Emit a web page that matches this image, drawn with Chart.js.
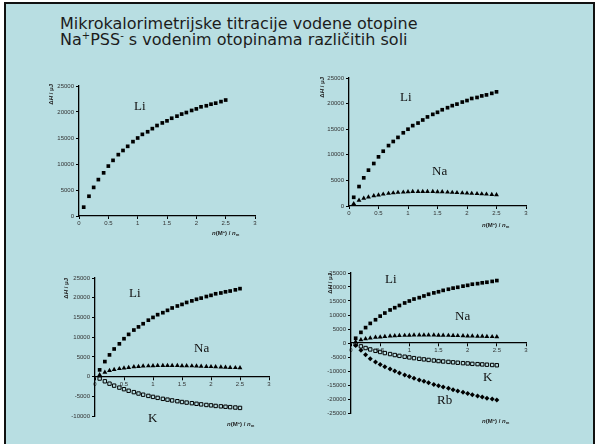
<!DOCTYPE html>
<html>
<head>
<meta charset="utf-8">
<script src="https://cdn.jsdelivr.net/npm/chart.js@4.4.1/dist/chart.umd.min.js"></script>
<style>
  body { margin: 0; width: 595px; height: 444px; background: #fff; overflow: hidden; position: relative; }
  #slide { position: absolute; left: 4px; top: 2px; width: 587px; height: 470px; background: #b8dee2; border: 2px solid #111; }
  #title { position: absolute; left: 60px; top: 16px; font: 16px/16px "DejaVu Sans", sans-serif; color: #1c1c1c; white-space: nowrap; }
  #title sup { font-size: 10px; vertical-align: 6px; line-height: 0; }
  canvas { position: absolute; }
  .lbl { position: absolute; font: 13px/13px "Liberation Serif", serif; color: #111; }
  .ytl { position: absolute; font: bold 6px/7px "Liberation Sans", Arial, sans-serif; color: #222;
         writing-mode: vertical-rl; transform: rotate(180deg); white-space: nowrap; }
  .xtl { position: absolute; font: bold 6px/7px "Liberation Sans", Arial, sans-serif; color: #222; white-space: nowrap; }
  .xtl sub { font-size: 4px; vertical-align: -1px; }
  .xtl sup { font-size: 4px; vertical-align: 2px; }
</style>
</head>
<body>
<div id="slide"></div>
<div id="title">Mikrokalorimetrijske titracije vodene otopine<br>Na<sup>+</sup>PSS<sup>-</sup> s vodenim otopinama različitih soli</div>

<canvas id="c1" width="230" height="165" style="left:40px;top:76px"></canvas>
<canvas id="c2" width="230" height="160" style="left:310px;top:70px"></canvas>
<canvas id="c3" width="230" height="155" style="left:56px;top:268px"></canvas>
<canvas id="c4" width="230" height="158" style="left:312px;top:263px"></canvas>

<div class="lbl" style="left:134px;top:99px">Li</div>
<div class="lbl" style="left:400px;top:90px">Li</div>
<div class="lbl" style="left:432px;top:164px">Na</div>
<div class="lbl" style="left:129px;top:286px">Li</div>
<div class="lbl" style="left:194px;top:341px">Na</div>
<div class="lbl" style="left:148px;top:411px">K</div>
<div class="lbl" style="left:385px;top:272px">Li</div>
<div class="lbl" style="left:455px;top:309px">Na</div>
<div class="lbl" style="left:483px;top:370px">K</div>
<div class="lbl" style="left:437px;top:393px">Rb</div>

<div class="ytl" style="left:48px;top:84px">Δ<i>H</i> / μJ</div>
<div class="ytl" style="left:319px;top:77px">Δ<i>H</i> / μJ</div>
<div class="ytl" style="left:63px;top:278px">Δ<i>H</i> / μJ</div>
<div class="ytl" style="left:327px;top:273px">Δ<i>H</i> / μJ</div>

<div class="xtl" style="left:212px;top:228px"><i>n</i>(M<sup>+</sup>) / <i>n</i><sub>m</sub></div>
<div class="xtl" style="left:482px;top:220px"><i>n</i>(M<sup>+</sup>) / <i>n</i><sub>m</sub></div>
<div class="xtl" style="left:227px;top:419px"><i>n</i>(M<sup>+</sup>) / <i>n</i><sub>m</sub></div>
<div class="xtl" style="left:482px;top:416px"><i>n</i>(M<sup>+</sup>) / <i>n</i><sub>m</sub></div>

<script>
// molar ratio n(M+)/n_m of each injection
const nRatio = [0.08, 0.17, 0.25, 0.33, 0.42, 0.5, 0.58, 0.67, 0.75, 0.83,
                0.92, 1.0, 1.08, 1.17, 1.25, 1.33, 1.42, 1.5, 1.58, 1.67,
                1.75, 1.83, 1.92, 2.0, 2.08, 2.17, 2.25, 2.33, 2.42, 2.5];

// cumulative heat, µJ
const liHeat = [1700, 3800, 5500, 7000, 8300, 9600, 10700, 11800, 12600, 13400,
                14300, 15000, 15700, 16200, 16800, 17400, 17900, 18300, 18800, 19200,
                19600, 19900, 20300, 20600, 21000, 21200, 21500, 21700, 22000, 22300];
const naHeat = [450, 1100, 1500, 1750, 2000, 2150, 2300, 2450, 2550, 2650,
                2700, 2750, 2800, 2800, 2800, 2800, 2800, 2750, 2750, 2700,
                2650, 2600, 2550, 2500, 2450, 2400, 2350, 2300, 2250, 2200];
const kHeat = [-500, -1200, -1800, -2300, -2800, -3200, -3600, -3950, -4300, -4600,
               -4900, -5150, -5400, -5650, -5850, -6050, -6250, -6450, -6600, -6750,
               -6900, -7050, -7200, -7300, -7450, -7550, -7650, -7750, -7850, -7950];
const rbHeat = [-900, -2600, -4200, -5600, -6800, -7700, -8500, -9300, -10000, -10700,
                -11400, -12000, -12600, -13200, -13700, -14200, -14800, -15300, -15700, -16200,
                -16700, -17100, -17600, -18000, -18500, -18900, -19300, -19700, -20000, -20400];

const xRange = [0, 3];
const xStep = 0.5;
const yStep = 5000;

const pts = ys => nRatio.map((x, i) => ({x: x, y: ys[i]}));

const liSet = () => ({label: 'Li', data: pts(liHeat), pointStyle: 'rect', radius: 2.6,
  backgroundColor: '#000', borderColor: '#000', borderWidth: 0});
const naSet = () => ({label: 'Na', data: pts(naHeat), pointStyle: 'triangle', radius: 2.8,
  backgroundColor: '#000', borderColor: '#000', borderWidth: 0});
const kSet = () => ({label: 'K', data: pts(kHeat), pointStyle: 'rect', radius: 2.4,
  backgroundColor: 'rgba(0,0,0,0)', borderColor: '#000', borderWidth: 1});
const rbSet = () => ({label: 'Rb', data: pts(rbHeat), pointStyle: 'rectRot', radius: 2.5,
  backgroundColor: '#000', borderColor: '#000', borderWidth: 0});

const tickFont = {family: '"Liberation Sans", Arial, sans-serif', size: 6};

function makeChart(id, datasets, yMin, yMax, xAtZero, pad, xHeight) {
  return new Chart(document.getElementById(id), {
    type: 'scatter',
    data: {datasets: datasets},
    options: {
      responsive: false,
      animation: false,
      events: [],
      layout: {autoPadding: false, padding: pad},
      plugins: {legend: {display: false}, tooltip: {enabled: false}},
      scales: {
        x: {
          type: 'linear',
          min: xRange[0],
          max: xRange[1],
          position: xAtZero ? {y: 0} : 'bottom',
          ticks: {stepSize: xStep, font: tickFont, color: '#333', padding: 1, maxRotation: 0,
                  autoSkip: false, callback: v => v},
          grid: {drawOnChartArea: false, drawTicks: true, tickLength: 3, color: '#000', lineWidth: 1},
          border: {color: '#000', width: 1.3},
          afterFit: s => { if (!xAtZero) s.height = xHeight; }
        },
        y: {
          min: yMin,
          max: yMax,
          ticks: {stepSize: yStep, font: tickFont, color: '#333', padding: 2, callback: v => v},
          grid: {drawOnChartArea: false, drawTicks: true, tickLength: 3, color: '#000', lineWidth: 1},
          border: {color: '#000', width: 1.3},
          afterFit: s => { s.width = 39; }
        }
      }
    }
  });
}

makeChart('c1', [liSet()], 0, 25000, false, {top: 10, right: 15, bottom: 0, left: 0}, 25);
makeChart('c2', [liSet(), naSet()], 0, 25000, false, {top: 8, right: 14, bottom: 0, left: 0}, 24);
makeChart('c3', [liSet(), naSet(), kSet()], -10000, 25000, true, {top: 10, right: 17, bottom: 7, left: 0}, 0);
makeChart('c4', [liSet(), naSet(), kSet(), rbSet()], -25000, 25000, true, {top: 10, right: 16, bottom: 8, left: 0}, 0);
</script>
</body>
</html>
